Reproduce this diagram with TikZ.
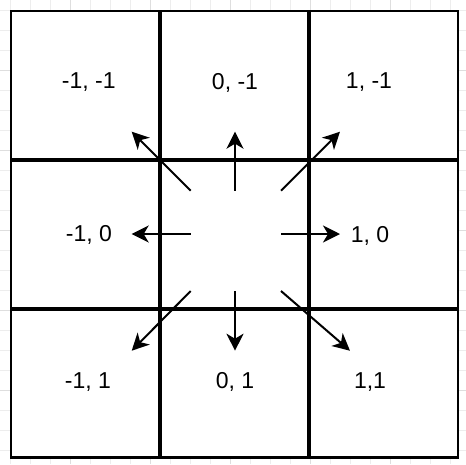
\documentclass[tikz,border=0pt]{standalone}
\usepackage{fontspec}
\setsansfont{Liberation Sans}
\usetikzlibrary{arrows.meta}

\begin{document}
\begin{tikzpicture}[
    % GLOBAL CFG
    x=1pt, y=-1pt,
    font=\sffamily\fontsize{23}{27}\selectfont,
    >={Stealth[length=17pt, width=17pt, inset=5pt]},
    % Styles
    cell/.style={% For one square of the neighbourhood
        rectangle,
        draw,
        fill=white,
        line width=2.5pt,
        minimum width=149pt,
        minimum height=149pt,
        inner sep=0pt,
        outer sep=0pt,
        },
    border/.style={% For the inner borders, a bit heavier
        line width=3.5pt,
        },
    offset/.style={% For the neighbour offsets
        inner sep=0pt,
        },
    move/.style={% For the direction arrows
        ->,
        line width=2pt,
        },
    minor/.style={% For the paper grid
        draw=black!7,
        line width=1pt,
        },
    major/.style={% every fourth grid line
        draw=black!13,
        line width=1pt,
        },
    ]

%Paper and grid behind the thing...
    \useasboundingbox (0,0) rectangle (466,464);
    \fill [white] (0,0) rectangle (466,464);
    \foreach \k in {10,30,...,450} {
        \draw [minor] (\k,0) -- (\k,464);
        \draw [minor] (0,\k) -- (466,\k);
    }
    \foreach \k in {70,150,...,390} {
        \draw [major] (\k,0) -- (\k,464);
        \draw [major] (0,\k) -- (466,\k);
    }

    % Draw the cells named c#col#row
    \foreach \i/\x in {0/85.5, 1/234.5, 2/383.5}
        \foreach \j/\y in {0/85.5, 1/234.5, 2/383}
            \node [cell] (c\i\j) at (\x,\y) {};

    % Inner borders
    \draw [border] (c00.north east) -- (c02.south east);
    \draw [border] (c10.north east) -- (c12.south east);
    \draw [border] (c00.south west) -- (c20.south east);
    \draw [border] (c01.south west) -- (c21.south east);

    % Draw the offsets, named as basis o#col#row
    \node [offset] (o00) at (88.8,82.5) {-1, -1};
    \node [offset] (o10) at (235,82.5) {0, -1};
    \node [offset] (o20) at (369,82.5) {1, -1};
    \node [offset] (o01) at (89,235) {-1, 0};
    \node [offset] (o21) at (370,236) {1, 0};
    \node [offset] (o02) at (88,382) {-1, 1};
    \node [offset] (o12) at (235,382) {0, 1};
    \node [offset] (o22) at (370,382) {1,1};

% Arrows out of the middle cell
    % s# is where an arrow starts, t# where its tip is
    \foreach \nm/\sx/\sy/\tx/\ty in {
            nw/190.7/190.7/131.7/131.7,
            n/235/190.7/235/131.7,
            ne/281/190.7/340/131.7,
            w/190.7/234/131.7/234,
            e/281/234/340/234,
            sw/190.7/291/131.7/350.7,
            s/235/291/235/350.7,
            se/281/291/350/350.7} {
        \coordinate (s\nm) at (\sx,\sy);
        \coordinate (t\nm) at (\tx,\ty);
        \draw [move] (s\nm) -- (t\nm);
    }

\end{tikzpicture}
\end{document}
